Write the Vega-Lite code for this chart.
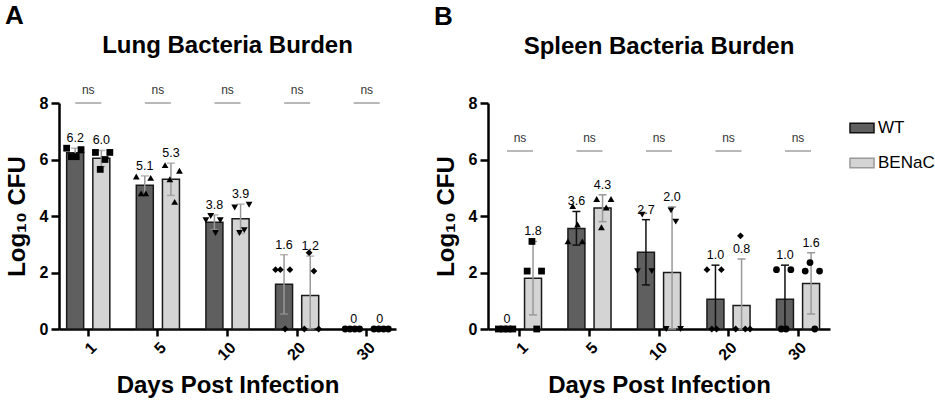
{
  "$schema": "https://vega.github.io/schema/vega-lite/v6.json",
  "padding": {"left": 5, "top": 3, "right": 0, "bottom": 0},
  "datasets": {
    "pts": [
      {"organ":"Lung","day":1,"group":"WT","mouse":"WT1","value":6.4},
      {"organ":"Lung","day":1,"group":"WT","mouse":"WT2","value":6.1},
      {"organ":"Lung","day":1,"group":"WT","mouse":"WT3","value":6.1},
      {"organ":"Lung","day":1,"group":"WT","mouse":"WT4","value":6.35},
      {"organ":"Lung","day":1,"group":"BENaC","mouse":"BENaC1","value":6.25},
      {"organ":"Lung","day":1,"group":"BENaC","mouse":"BENaC2","value":5.65},
      {"organ":"Lung","day":1,"group":"BENaC","mouse":"BENaC3","value":6.0},
      {"organ":"Lung","day":1,"group":"BENaC","mouse":"BENaC4","value":6.25},
      {"organ":"Lung","day":5,"group":"WT","mouse":"WT1","value":5.4},
      {"organ":"Lung","day":5,"group":"WT","mouse":"WT2","value":4.8},
      {"organ":"Lung","day":5,"group":"WT","mouse":"WT3","value":4.8},
      {"organ":"Lung","day":5,"group":"WT","mouse":"WT4","value":5.35},
      {"organ":"Lung","day":5,"group":"BENaC","mouse":"BENaC1","value":5.8},
      {"organ":"Lung","day":5,"group":"BENaC","mouse":"BENaC2","value":5.3},
      {"organ":"Lung","day":5,"group":"BENaC","mouse":"BENaC3","value":4.5},
      {"organ":"Lung","day":5,"group":"BENaC","mouse":"BENaC4","value":5.6},
      {"organ":"Lung","day":10,"group":"WT","mouse":"WT1","value":3.85},
      {"organ":"Lung","day":10,"group":"WT","mouse":"WT2","value":4.0},
      {"organ":"Lung","day":10,"group":"WT","mouse":"WT3","value":3.4},
      {"organ":"Lung","day":10,"group":"WT","mouse":"WT4","value":3.85},
      {"organ":"Lung","day":10,"group":"BENaC","mouse":"BENaC1","value":4.3},
      {"organ":"Lung","day":10,"group":"BENaC","mouse":"BENaC2","value":3.4},
      {"organ":"Lung","day":10,"group":"BENaC","mouse":"BENaC3","value":3.5},
      {"organ":"Lung","day":10,"group":"BENaC","mouse":"BENaC4","value":4.4},
      {"organ":"Lung","day":20,"group":"WT","mouse":"WT1","value":2.1},
      {"organ":"Lung","day":20,"group":"WT","mouse":"WT2","value":2.1},
      {"organ":"Lung","day":20,"group":"WT","mouse":"WT3","value":0},
      {"organ":"Lung","day":20,"group":"WT","mouse":"WT4","value":2.1},
      {"organ":"Lung","day":20,"group":"BENaC","mouse":"BENaC1","value":0},
      {"organ":"Lung","day":20,"group":"BENaC","mouse":"BENaC2","value":2.7},
      {"organ":"Lung","day":20,"group":"BENaC","mouse":"BENaC3","value":2.05},
      {"organ":"Lung","day":20,"group":"BENaC","mouse":"BENaC4","value":0},
      {"organ":"Lung","day":30,"group":"WT","mouse":"WT1","value":0},
      {"organ":"Lung","day":30,"group":"WT","mouse":"WT2","value":0},
      {"organ":"Lung","day":30,"group":"WT","mouse":"WT3","value":0},
      {"organ":"Lung","day":30,"group":"WT","mouse":"WT4","value":0},
      {"organ":"Lung","day":30,"group":"BENaC","mouse":"BENaC1","value":0},
      {"organ":"Lung","day":30,"group":"BENaC","mouse":"BENaC2","value":0},
      {"organ":"Lung","day":30,"group":"BENaC","mouse":"BENaC3","value":0},
      {"organ":"Lung","day":30,"group":"BENaC","mouse":"BENaC4","value":0},
      {"organ":"Spleen","day":1,"group":"WT","mouse":"WT1","value":0},
      {"organ":"Spleen","day":1,"group":"WT","mouse":"WT2","value":0},
      {"organ":"Spleen","day":1,"group":"WT","mouse":"WT3","value":0},
      {"organ":"Spleen","day":1,"group":"WT","mouse":"WT4","value":0},
      {"organ":"Spleen","day":1,"group":"BENaC","mouse":"BENaC1","value":2.05},
      {"organ":"Spleen","day":1,"group":"BENaC","mouse":"BENaC2","value":3.1},
      {"organ":"Spleen","day":1,"group":"BENaC","mouse":"BENaC3","value":0},
      {"organ":"Spleen","day":1,"group":"BENaC","mouse":"BENaC4","value":2.05},
      {"organ":"Spleen","day":5,"group":"WT","mouse":"WT1","value":3.1},
      {"organ":"Spleen","day":5,"group":"WT","mouse":"WT2","value":4.35},
      {"organ":"Spleen","day":5,"group":"WT","mouse":"WT3","value":3.7},
      {"organ":"Spleen","day":5,"group":"WT","mouse":"WT4","value":3.1},
      {"organ":"Spleen","day":5,"group":"BENaC","mouse":"BENaC1","value":4.6},
      {"organ":"Spleen","day":5,"group":"BENaC","mouse":"BENaC2","value":3.6},
      {"organ":"Spleen","day":5,"group":"BENaC","mouse":"BENaC3","value":4.3},
      {"organ":"Spleen","day":5,"group":"BENaC","mouse":"BENaC4","value":4.6},
      {"organ":"Spleen","day":10,"group":"WT","mouse":"WT1","value":2.05},
      {"organ":"Spleen","day":10,"group":"WT","mouse":"WT2","value":4.05},
      {"organ":"Spleen","day":10,"group":"WT","mouse":"WT4","value":2.05},
      {"organ":"Spleen","day":10,"group":"BENaC","mouse":"BENaC1","value":0},
      {"organ":"Spleen","day":10,"group":"BENaC","mouse":"BENaC2","value":4.2},
      {"organ":"Spleen","day":10,"group":"BENaC","mouse":"BENaC3","value":3.8},
      {"organ":"Spleen","day":10,"group":"BENaC","mouse":"BENaC4","value":0},
      {"organ":"Spleen","day":20,"group":"WT","mouse":"WT1","value":2.1},
      {"organ":"Spleen","day":20,"group":"WT","mouse":"WT2","value":0},
      {"organ":"Spleen","day":20,"group":"WT","mouse":"WT3","value":0},
      {"organ":"Spleen","day":20,"group":"WT","mouse":"WT4","value":2.1},
      {"organ":"Spleen","day":20,"group":"BENaC","mouse":"BENaC1","value":0},
      {"organ":"Spleen","day":20,"group":"BENaC","mouse":"BENaC2","value":3.3},
      {"organ":"Spleen","day":20,"group":"BENaC","mouse":"BENaC3","value":0},
      {"organ":"Spleen","day":20,"group":"BENaC","mouse":"BENaC4","value":0},
      {"organ":"Spleen","day":30,"group":"WT","mouse":"WT1","value":2.1},
      {"organ":"Spleen","day":30,"group":"WT","mouse":"WT2","value":0},
      {"organ":"Spleen","day":30,"group":"WT","mouse":"WT3","value":0},
      {"organ":"Spleen","day":30,"group":"WT","mouse":"WT4","value":2.1},
      {"organ":"Spleen","day":30,"group":"BENaC","mouse":"BENaC1","value":2.05},
      {"organ":"Spleen","day":30,"group":"BENaC","mouse":"BENaC2","value":2.35},
      {"organ":"Spleen","day":30,"group":"BENaC","mouse":"BENaC3","value":0},
      {"organ":"Spleen","day":30,"group":"BENaC","mouse":"BENaC4","value":2.05}
    ],
    "summ": [
      {"organ":"Lung","day":1,"group":"WT","mean":6.24,"lo":6.08,"hi":6.4,"label":"6.2"},
      {"organ":"Lung","day":1,"group":"BENaC","mean":6.04,"lo":5.75,"hi":6.32,"label":"6.0"},
      {"organ":"Lung","day":5,"group":"WT","mean":5.09,"lo":4.75,"hi":5.42,"label":"5.1"},
      {"organ":"Lung","day":5,"group":"BENaC","mean":5.3,"lo":4.73,"hi":5.87,"label":"5.3"},
      {"organ":"Lung","day":10,"group":"WT","mean":3.78,"lo":3.52,"hi":4.04,"label":"3.8"},
      {"organ":"Lung","day":10,"group":"BENaC","mean":3.9,"lo":3.38,"hi":4.42,"label":"3.9"},
      {"organ":"Lung","day":20,"group":"WT","mean":1.58,"lo":0.53,"hi":2.63,"label":"1.6"},
      {"organ":"Lung","day":20,"group":"BENaC","mean":1.19,"lo":0,"hi":2.58,"label":"1.2"},
      {"organ":"Lung","day":30,"group":"WT","mean":0,"lo":0,"hi":0,"label":"0"},
      {"organ":"Lung","day":30,"group":"BENaC","mean":0,"lo":0,"hi":0,"label":"0"},
      {"organ":"Spleen","day":1,"group":"WT","mean":0,"lo":0,"hi":0,"label":"0"},
      {"organ":"Spleen","day":1,"group":"BENaC","mean":1.8,"lo":0.5,"hi":3.1,"label":"1.8"},
      {"organ":"Spleen","day":5,"group":"WT","mean":3.56,"lo":2.97,"hi":4.16,"label":"3.6"},
      {"organ":"Spleen","day":5,"group":"BENaC","mean":4.28,"lo":3.8,"hi":4.75,"label":"4.3"},
      {"organ":"Spleen","day":10,"group":"WT","mean":2.72,"lo":1.56,"hi":3.87,"label":"2.7"},
      {"organ":"Spleen","day":10,"group":"BENaC","mean":2.0,"lo":0,"hi":4.32,"label":"2.0"},
      {"organ":"Spleen","day":20,"group":"WT","mean":1.05,"lo":0,"hi":2.26,"label":"1.0"},
      {"organ":"Spleen","day":20,"group":"BENaC","mean":0.83,"lo":0,"hi":2.48,"label":"0.8"},
      {"organ":"Spleen","day":30,"group":"WT","mean":1.05,"lo":0,"hi":2.26,"label":"1.0"},
      {"organ":"Spleen","day":30,"group":"BENaC","mean":1.61,"lo":0.53,"hi":2.7,"label":"1.6"}
    ],
    "sig": [
      {"organ":"Lung","day":1,"result":"ns"},
      {"organ":"Lung","day":5,"result":"ns"},
      {"organ":"Lung","day":10,"result":"ns"},
      {"organ":"Lung","day":20,"result":"ns"},
      {"organ":"Lung","day":30,"result":"ns"},
      {"organ":"Spleen","day":1,"result":"ns"},
      {"organ":"Spleen","day":5,"result":"ns"},
      {"organ":"Spleen","day":10,"result":"ns"},
      {"organ":"Spleen","day":20,"result":"ns"},
      {"organ":"Spleen","day":30,"result":"ns"}
    ]
  },
  "spacing": 38,
  "resolve": {"scale": {"fill": "independent", "color": "independent"}, "legend": {"fill": "independent", "color": "independent"}},
  "hconcat": [
    {
      "title": {"text": "A", "anchor": "start", "frame": "bounds", "fontSize": 26, "fontWeight": "bold", "offset": 5},
      "resolve": {"scale": {"fill": "independent"}, "legend": {"fill": "independent"}},
      "vconcat": [
        {
          "width": 337,
          "height": 226,
          "title": {"text": "Lung Bacteria Burden", "anchor": "middle", "frame": "group", "fontSize": 24, "fontWeight": "bold", "offset": 26},
          "encoding": {
            "x": {"field": "day", "type": "ordinal", "scale": {"domain": [1, 5, 10, 20, 30], "paddingInner": 0.38, "paddingOuter": 0.11}, "axis": {"title": "Days Post Infection", "labelAngle": -45}}
          },
          "resolve": {"scale": {"xOffset": "independent"}},
          "layer": [
            {
              "data": {"name": "summ"},
              "transform": [{"filter": "datum.organ === 'Lung'"}],
              "encoding": {
                "xOffset": {"field": "group", "type": "nominal", "scale": {"domain": ["WT", "BENaC"], "paddingInner": 0.35, "paddingOuter": 0}}
              },
              "layer": [
                {
                  "mark": {"type": "bar", "stroke": "#1a1a1a", "strokeWidth": 1.5},
                  "encoding": {
                    "y": {"field": "mean", "type": "quantitative", "scale": {"domain": [0, 8], "nice": false}, "axis": {"title": "Log₁₀ CFU", "values": [0, 2, 4, 6, 8]}},
                    "fill": {"field": "group", "type": "nominal", "scale": {"domain": ["WT", "BENaC"], "range": ["#5f5f5f", "#d4d4d4"]}, "legend": null}
                  }
                },
                {
                  "mark": {"type": "rule", "color": "#999999", "strokeWidth": 1.5},
                  "encoding": {"y": {"field": "lo", "type": "quantitative", "title": "Log₁₀ CFU"}, "y2": {"field": "hi"}}
                },
                {
                  "mark": {"type": "tick", "orient": "horizontal", "color": "#999999", "size": 8, "thickness": 1.5},
                  "encoding": {"y": {"field": "lo", "type": "quantitative", "title": "Log₁₀ CFU"}}
                },
                {
                  "mark": {"type": "tick", "orient": "horizontal", "color": "#999999", "size": 8, "thickness": 1.5},
                  "encoding": {"y": {"field": "hi", "type": "quantitative", "title": "Log₁₀ CFU"}}
                },
                {
                  "mark": {"type": "text", "baseline": "bottom", "dy": -3, "fontSize": 12.5, "color": "#000000"},
                  "encoding": {"y": {"field": "hi", "type": "quantitative", "title": "Log₁₀ CFU"}, "text": {"field": "label"}}
                }
              ]
            },
            {
              "data": {"name": "pts"},
              "transform": [{"filter": "datum.organ === 'Lung'"}],
              "mark": {"type": "point", "filled": true, "color": "#000000", "opacity": 1, "size": 46},
              "encoding": {
                "xOffset": {"field": "mouse", "type": "nominal", "scale": {"domain": ["WT1", "WT2", "WT3", "WT4", "gap1", "gap2", "BENaC1", "BENaC2", "BENaC3", "BENaC4"], "paddingInner": 0, "paddingOuter": 0}},
                "y": {"field": "value", "type": "quantitative", "title": "Log₁₀ CFU"},
                "shape": {"field": "day", "type": "ordinal", "scale": {"domain": [1, 5, 10, 20, 30], "range": ["square", "triangle-up", "triangle-down", "diamond", "circle"]}, "legend": null}
              }
            },
            {
              "data": {"name": "sig"},
              "transform": [{"filter": "datum.organ === 'Lung'"}],
              "mark": {"type": "tick", "orient": "horizontal", "color": "#9a9a9a", "size": 26, "thickness": 2},
              "encoding": {"y": {"datum": 8, "type": "quantitative", "title": "Log₁₀ CFU"}}
            },
            {
              "data": {"name": "sig"},
              "transform": [{"filter": "datum.organ === 'Lung'"}],
              "mark": {"type": "text", "baseline": "alphabetic", "dy": -9, "fontSize": 12, "color": "#333333"},
              "encoding": {"y": {"datum": 8, "type": "quantitative", "title": "Log₁₀ CFU"}, "text": {"field": "result"}}
            }
          ]
        }
      ]
    },
    {
      "title": {"text": "B", "anchor": "start", "frame": "bounds", "fontSize": 26, "fontWeight": "bold", "offset": 5},
      "resolve": {"scale": {"fill": "independent", "color": "independent"}, "legend": {"fill": "independent", "color": "independent"}},
      "vconcat": [
        {
          "width": 342,
          "height": 226,
          "title": {"text": "Spleen Bacteria Burden", "anchor": "middle", "frame": "group", "fontSize": 24, "fontWeight": "bold", "offset": 36},
          "encoding": {
            "x": {"field": "day", "type": "ordinal", "scale": {"domain": [1, 5, 10, 20, 30], "paddingInner": 0.38, "paddingOuter": 0.15}, "axis": {"title": "Days Post Infection", "labelAngle": -45}}
          },
          "resolve": {"scale": {"xOffset": "independent"}},
          "layer": [
            {
              "data": {"name": "summ"},
              "transform": [{"filter": "datum.organ === 'Spleen'"}],
              "encoding": {
                "xOffset": {"field": "group", "type": "nominal", "scale": {"domain": ["WT", "BENaC"], "paddingInner": 0.35, "paddingOuter": 0}}
              },
              "layer": [
                {
                  "mark": {"type": "bar", "stroke": "#1a1a1a", "strokeWidth": 1.5},
                  "encoding": {
                    "y": {"field": "mean", "type": "quantitative", "scale": {"domain": [0, 8], "nice": false}, "axis": {"title": "Log₁₀ CFU", "values": [0, 2, 4, 6, 8]}},
                    "fill": {"field": "group", "type": "nominal", "scale": {"domain": ["WT", "BENaC"], "range": ["#5f5f5f", "#d4d4d4"]},
                      "legend": {"title": null, "orient": "right", "offset": 7, "padding": 12, "symbolType": "M-1,-0.4H1V0.4H-1Z", "symbolSize": 576, "symbolStrokeColor": "#222222", "symbolStrokeWidth": 1.5, "symbolOpacity": 1, "labelFontSize": 17, "labelColor": "#000000", "labelOffset": 3, "rowPadding": 14}}
                  }
                },
                {
                  "mark": {"type": "rule", "strokeWidth": 1.5},
                  "encoding": {"y": {"field": "lo", "type": "quantitative", "title": "Log₁₀ CFU"}, "y2": {"field": "hi"},
                    "color": {"field": "group", "type": "nominal", "scale": {"domain": ["WT", "BENaC"], "range": ["#111111", "#999999"]}, "legend": null}}
                },
                {
                  "mark": {"type": "tick", "orient": "horizontal", "size": 8, "thickness": 1.5, "opacity": 1},
                  "encoding": {"y": {"field": "lo", "type": "quantitative", "title": "Log₁₀ CFU"},
                    "color": {"field": "group", "type": "nominal", "scale": {"domain": ["WT", "BENaC"], "range": ["#111111", "#999999"]}, "legend": null}}
                },
                {
                  "mark": {"type": "tick", "orient": "horizontal", "size": 8, "thickness": 1.5, "opacity": 1},
                  "encoding": {"y": {"field": "hi", "type": "quantitative", "title": "Log₁₀ CFU"},
                    "color": {"field": "group", "type": "nominal", "scale": {"domain": ["WT", "BENaC"], "range": ["#111111", "#999999"]}, "legend": null}}
                },
                {
                  "mark": {"type": "text", "baseline": "bottom", "dy": -3, "fontSize": 12.5, "color": "#000000"},
                  "encoding": {"y": {"field": "hi", "type": "quantitative", "title": "Log₁₀ CFU"}, "text": {"field": "label"}}
                }
              ]
            },
            {
              "data": {"name": "pts"},
              "transform": [{"filter": "datum.organ === 'Spleen'"}],
              "mark": {"type": "point", "filled": true, "color": "#000000", "opacity": 1, "size": 46},
              "encoding": {
                "xOffset": {"field": "mouse", "type": "nominal", "scale": {"domain": ["WT1", "WT2", "WT3", "WT4", "gap1", "gap2", "BENaC1", "BENaC2", "BENaC3", "BENaC4"], "paddingInner": 0, "paddingOuter": 0}},
                "y": {"field": "value", "type": "quantitative", "title": "Log₁₀ CFU"},
                "shape": {"field": "day", "type": "ordinal", "scale": {"domain": [1, 5, 10, 20, 30], "range": ["square", "triangle-up", "triangle-down", "diamond", "circle"]}, "legend": null}
              }
            },
            {
              "data": {"name": "sig"},
              "transform": [{"filter": "datum.organ === 'Spleen'"}],
              "mark": {"type": "tick", "orient": "horizontal", "color": "#9a9a9a", "size": 26, "thickness": 2},
              "encoding": {"y": {"datum": 6.3, "type": "quantitative", "title": "Log₁₀ CFU"}}
            },
            {
              "data": {"name": "sig"},
              "transform": [{"filter": "datum.organ === 'Spleen'"}],
              "mark": {"type": "text", "baseline": "alphabetic", "dy": -9, "fontSize": 12, "color": "#333333"},
              "encoding": {"y": {"datum": 6.3, "type": "quantitative", "title": "Log₁₀ CFU"}, "text": {"field": "result"}}
            }
          ]
        }
      ]
    }
  ],
  "config": {
    "font": "Liberation Sans",
    "view": {"stroke": null},
    "title": {"color": "#000000"},
    "axis": {"grid": false, "domainColor": "#000000", "domainWidth": 2.5, "tickColor": "#000000", "tickWidth": 2.5, "labelFontSize": 16, "labelFontWeight": "bold", "labelColor": "#000000", "titleFontSize": 24, "titleFontWeight": "bold", "titleColor": "#000000"},
    "axisX": {"tickSize": 7, "labelPadding": 3, "titlePadding": 11},
    "axisY": {"tickSize": 8, "labelPadding": 3, "titlePadding": 10},
    "legend": {"labelFont": "Liberation Sans"}
  }
}
